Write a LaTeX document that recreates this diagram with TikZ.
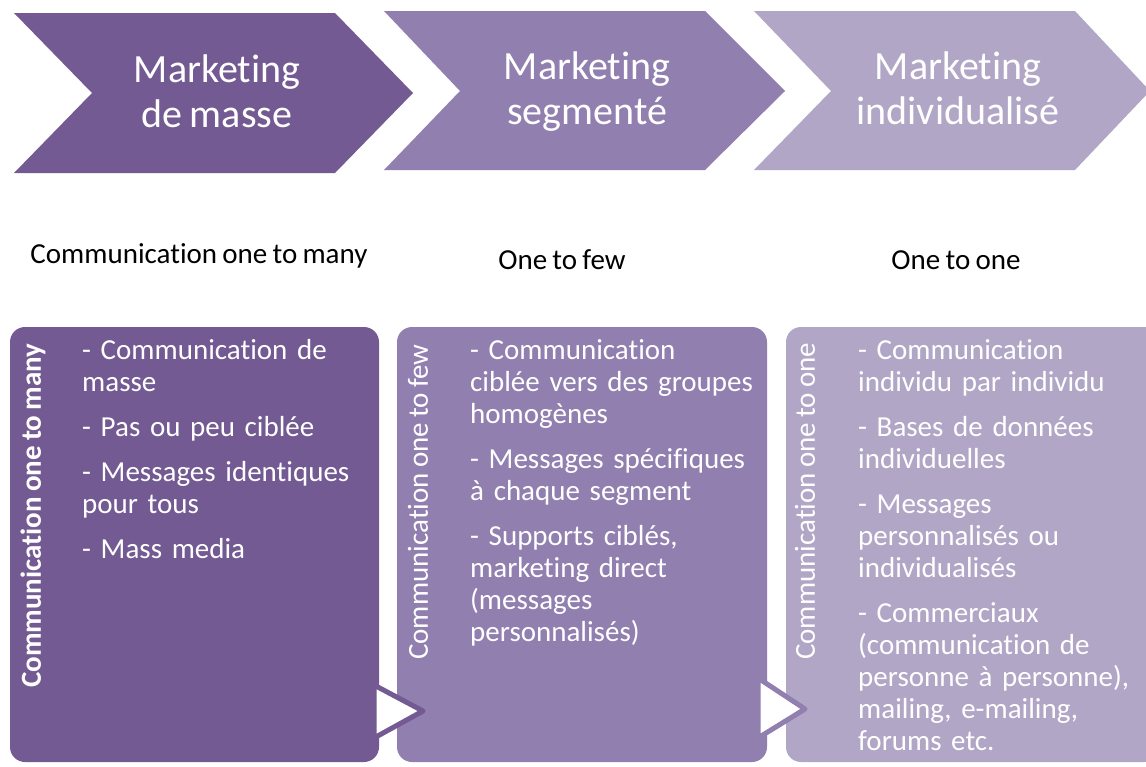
\documentclass[tikz,border=0pt]{standalone}
\usepackage{fontspec}
\setmainfont{Carlito}[Ligatures=NoCommon,WordSpace=0.8]
\definecolor{pdark}{RGB}{115,90,146}
\definecolor{pmid}{RGB}{144,127,175}
\definecolor{plight}{RGB}{177,166,198}
\begin{document}
\begin{tikzpicture}[x=1pt,y=-1pt,
  chevtext/.style={text=white,align=center,inner sep=0pt,anchor=base,font=\fontsize{40}{45}\selectfont},
  boxstyle/.style={rounded corners=15pt},
  bodytext/.style={text=white,align=left,text width=300pt,inner sep=0pt,anchor=base west,font=\fontsize{29}{32}\selectfont},
  vlabel/.style={text=white,rotate=90,anchor=west,inner sep=0pt,font=\fontsize{29}{32}\selectfont},
  midlabel/.style={text=black,inner sep=0pt,font=\fontsize{29}{32}\selectfont},
  tri/.style={fill=white,line width=5pt,line join=round}]
\useasboundingbox (0,0) rectangle (1146,766);
\begin{scope}
\clip (0,0) rectangle (1146,766);
% chevrons
\fill[pdark] (14,13) -- (335,13) -- (413,93) -- (335,173) -- (14,173) -- (92,93) -- cycle;
\fill[pmid] (384,11) -- (705,11) -- (785,91) -- (705,170) -- (384,170) -- (460,91) -- cycle;
\fill[plight] (754,11) -- (1075,11) -- (1150,91) -- (1075,170) -- (754,170) -- (831,91) -- cycle;
% boxes
\fill[pdark,boxstyle] (10,327) rectangle (379,762);
\fill[pmid,boxstyle] (397,327) rectangle (767,762);
\fill[plight,boxstyle] (786,327) rectangle (1160,762);
% triangles
\draw[tri,draw=pdark] (374,685) -- (423,711) -- (374,738) -- cycle;
\draw[tri,draw=pmid] (758,678) -- (805,709) -- (758,738) -- cycle;
\end{scope}
% chevron texts
\node[chevtext] (c1) at (217,127) {Marketing\\de masse};
\node[chevtext] (c2) at (587,124) {Marketing\\segmenté};
\node[chevtext] (c3) at (958,124) {Marketing\\individualisé};
% middle labels
\node[midlabel] (m1) at (199,256) {Communication one to many};
\node[midlabel] (m2) at (562,260) {One to few};
\node[midlabel] (m3) at (956,260) {One to one};
% vertical labels
\node[vlabel,font=\fontsize{29}{32}\selectfont\bfseries] (v1) at (33,688) {Communication one to many};
\node[vlabel] (v2) at (418,660) {Communication one to few};
\node[vlabel] (v3) at (805,660) {Communication one to one};
% body texts
\node[bodytext] (b1) at (82,359) {- Communication de\\masse\\[13pt]- Pas ou peu ciblée\\[13pt]- Messages identiques\\pour tous\\[13pt]- Mass media};
\node[bodytext] (b2) at (470,359) {- Communication\\ciblée vers des groupes\\homogènes\\[13pt]- Messages spécifiques\\à chaque segment\\[13pt]- Supports ciblés,\\marketing direct\\(messages\\personnalisés)};
\node[bodytext] (b3) at (858,359) {- Communication\\individu par individu\\[13pt]- Bases de données\\individuelles\\[13pt]- Messages\\personnalisés ou\\individualisés\\[13pt]- Commerciaux\\(communication de\\personne à personne),\\mailing, e-mailing,\\forums etc.};
\end{tikzpicture}
\end{document}
